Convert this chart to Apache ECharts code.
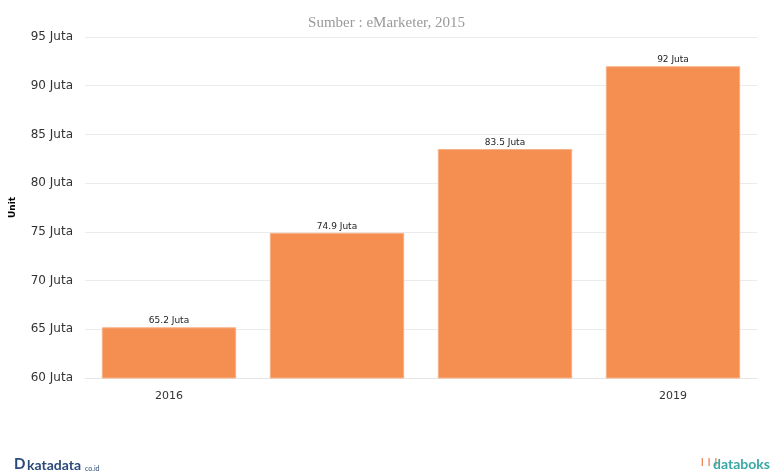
<!DOCTYPE html>
<html><head><meta charset="utf-8">
<script src="https://cdn.jsdelivr.net/npm/echarts@6/dist/echarts.min.js"></script>
<style>html,body{margin:0;padding:0;background:#fff}#c{width:773px;height:475px}</style>
</head><body><div id="c"></div>
<script>
var categories = ['2016', '2017', '2018', '2019'];
var values = [65.2, 74.9, 83.5, 92];
var shownCategoryLabels = ['2016', '2019'];
var chart = echarts.init(document.getElementById('c'));
chart.setOption({
  animation: false,
  title: {
    text: 'Sumber : eMarketer, 2015',
    left: 'center', top: 11,
    textStyle: {fontFamily: 'Liberation Serif', fontSize: 15, fontWeight: 'normal', color: '#999'}
  },
  grid: {left: 85, right: 16, top: 37, bottom: 97},
  xAxis: {
    type: 'category', data: categories,
    axisLine: {show: true, lineStyle: {color: '#e6e6e6'}},
    axisTick: {show: false},
    axisLabel: {
      interval: 0, margin: 13,
      fontFamily: 'DejaVu Sans', fontSize: 11, color: '#333',
      formatter: function (v) { return shownCategoryLabels.indexOf(v) >= 0 ? v : ''; }
    }
  },
  yAxis: {
    type: 'value', min: 60, max: 95, interval: 5,
    name: 'Unit', nameLocation: 'middle', nameGap: 68, nameRotate: 90,
    nameTextStyle: {fontFamily: 'DejaVu Sans', fontSize: 9, fontWeight: 'bold', color: '#000'},
    axisLine: {show: false}, axisTick: {show: false},
    splitLine: {lineStyle: {color: '#ebebeb'}},
    axisLabel: {
      margin: 12, fontFamily: 'DejaVu Sans', fontSize: 12, color: '#333',
      formatter: function (v) { return v + ' Juta'; }
    }
  },
  series: [{
    type: 'bar', data: values, barWidth: '80%',
    itemStyle: {color: '#F48E51', borderColor: '#F8B288', borderWidth: 1},
    label: {
      show: true, position: 'top', distance: 2,
      fontFamily: 'DejaVu Sans', fontSize: 9, color: '#222',
      formatter: function (p) { return p.value + ' Juta'; }
    }
  }],
  graphic: [
    {type: 'text', left: 14, top: 457, style: {text: 'D', font: 'bold 15px Lato', fill: '#2b4a7a'}},
    {type: 'text', left: 27, top: 458, style: {text: 'katadata', font: 'bold 14px Lato', fill: '#2b4a7a'}},
    {type: 'text', left: 85, top: 465, style: {text: 'co.id', font: '7px Lato', fill: '#2b4a7a'}},
    {type: 'text', left: 699, top: 458, style: {text: '\u2759\u2759\u2759', font: '8px DejaVu Sans', fill: '#f08a5d'}},
    {type: 'text', left: 713, top: 457, style: {text: 'databoks', font: 'bold 14px Lato', fill: '#3aa7a7'}}
  ]
});
</script></body></html>
